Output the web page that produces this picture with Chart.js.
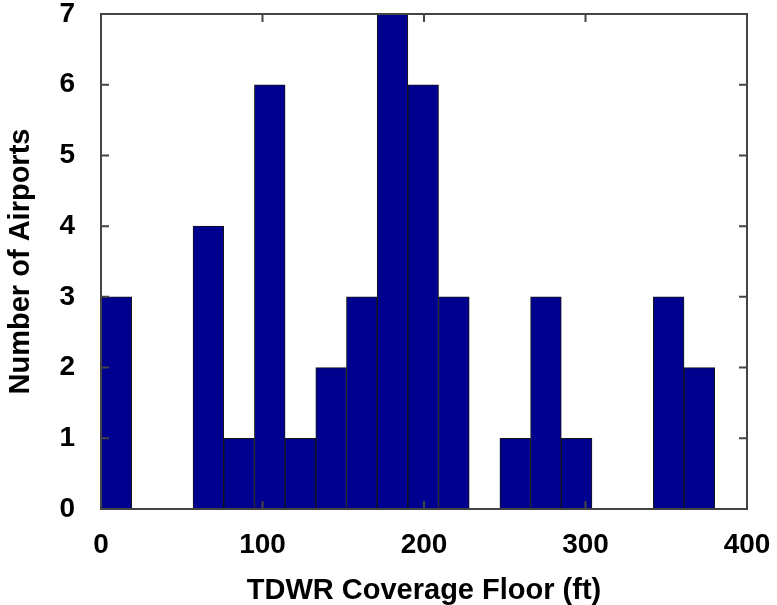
<!DOCTYPE html>
<html>
<head>
<meta charset="utf-8">
<script src="https://cdn.jsdelivr.net/npm/chart.js@4"></script>
<style>
  html, body { margin: 0; padding: 0; background: #fff; }
  #wrap { width: 777px; height: 605px; }
</style>
</head>
<body>
<div id="wrap"><canvas id="hist" width="777" height="605"></canvas></div>
<script>
// Histogram bins (centre of each bin, ft) and airport counts
const binCenters = [9.5, 28.5, 47.5, 66.5, 85.5, 104.5, 123.5, 142.5, 161.5, 180.5,
                    199.5, 218.5, 237.5, 256.5, 275.5, 294.5, 313.5, 332.5, 351.5, 370.5];
const airportCounts = [3, 0, 0, 4, 1, 6, 1, 2, 3, 7,
                       6, 3, 0, 1, 3, 1, 0, 0, 3, 2];
const xTicks = [0, 100, 200, 300, 400];
const yTicks = [0, 1, 2, 3, 4, 5, 6, 7];

const fontFamily = "'Liberation Sans', Arial, Helvetica, sans-serif";

// Box around the plot with inward ticks (matlab style)
const framePlugin = {
  id: "frame",
  afterDraw(chart) {
    const { ctx, chartArea: a, scales } = chart;
    ctx.save();
    ctx.strokeStyle = "#444";
    ctx.lineWidth = 2;
    ctx.strokeRect(a.left, a.top, a.right - a.left, a.bottom - a.top);
    const len = 8;
    ctx.beginPath();
    xTicks.forEach(v => {
      const px = scales.x.getPixelForValue(v);
      ctx.moveTo(px, a.bottom); ctx.lineTo(px, a.bottom - len);
      ctx.moveTo(px, a.top); ctx.lineTo(px, a.top + len);
    });
    yTicks.forEach(v => {
      const py = scales.y.getPixelForValue(v);
      ctx.moveTo(a.left, py); ctx.lineTo(a.left + len, py);
      ctx.moveTo(a.right, py); ctx.lineTo(a.right - len, py);
    });
    ctx.stroke();
    ctx.restore();
  }
};

new Chart(document.getElementById("hist"), {
  type: "bar",
  data: {
    datasets: [{
      data: binCenters.map((c, i) => ({ x: c, y: airportCounts[i] })),
      backgroundColor: "#00008f",
      borderColor: "#161616",
      borderWidth: 1,
      borderSkipped: false,
      barPercentage: 1,
      categoryPercentage: 1
    }]
  },
  options: {
    responsive: false,
    animation: false,
    layout: { padding: { top: 14, right: 30, left: 0, bottom: 0 } },
    plugins: { legend: { display: false }, tooltip: { enabled: false } },
    scales: {
      x: {
        type: "linear",
        min: 0, max: 400,
        offset: false,
        afterFit(s) { s.height = 96; s.paddingLeft = 0; s.paddingRight = 0; },
        afterBuildTicks(s) { s.ticks = xTicks.map(v => ({ value: v })); },
        grid: { display: false, drawTicks: false },
        border: { display: false },
        ticks: {
          color: "#000",
          padding: 19,
          maxRotation: 0,
          font: { family: fontFamily, size: 28, weight: "bold" }
        },
        title: {
          display: true,
          text: "TDWR Coverage Floor (ft)",
          color: "#000",
          padding: { top: 0, bottom: -3 },
          font: { family: fontFamily, size: 29, weight: "bold" }
        }
      },
      y: {
        min: 0, max: 7,
        afterFit(s) { s.width = 101; s.paddingTop = 0; s.paddingBottom = 0; },
        afterBuildTicks(s) { s.ticks = yTicks.map(v => ({ value: v })); },
        grid: { display: false, drawTicks: false },
        border: { display: false },
        ticks: {
          color: "#000",
          padding: 26,
          font: { family: fontFamily, size: 28, weight: "bold" }
        },
        title: {
          display: true,
          text: "Number of Airports",
          color: "#000",
          padding: { top: 4, bottom: 0 },
          font: { family: fontFamily, size: 29, weight: "bold" }
        }
      }
    }
  },
  plugins: [framePlugin]
});
</script>
</body>
</html>
